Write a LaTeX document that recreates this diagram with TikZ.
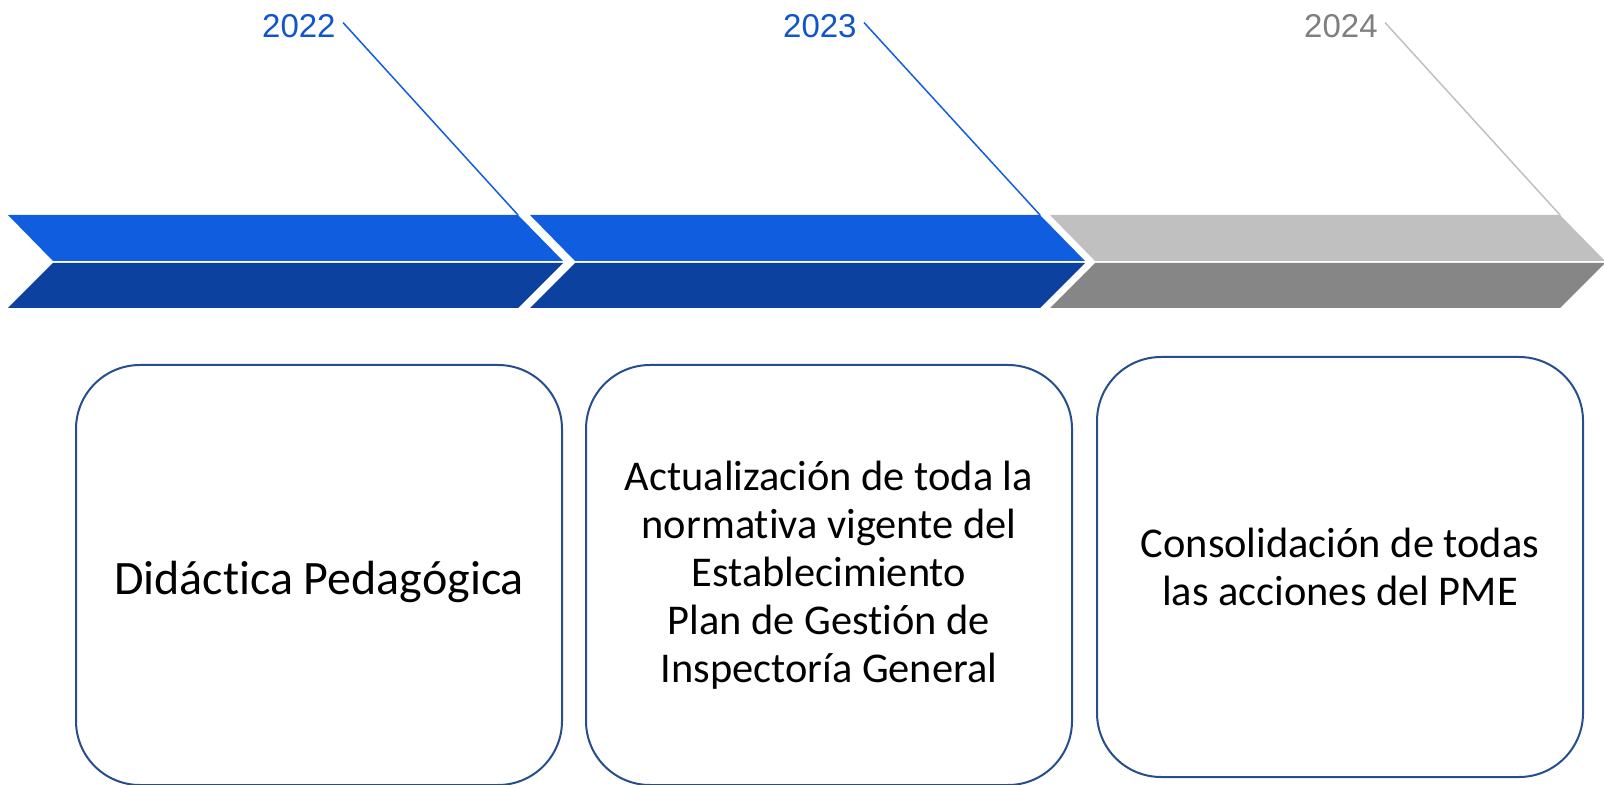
\documentclass[tikz,border=0pt]{standalone}
\usepackage{fontspec}
\setmainfont{Carlito}[Ligatures=NoCommon]
\newfontfamily\yearfont{Liberation Sans}
\usetikzlibrary{positioning}

\definecolor{bandtop}{RGB}{16,94,223}
\definecolor{bandbot}{RGB}{12,65,160}
\definecolor{greytop}{RGB}{192,192,192}
\definecolor{greybot}{RGB}{134,134,134}
\definecolor{yearblue}{RGB}{17,85,204}
\definecolor{yeargrey}{RGB}{127,127,127}
\definecolor{cardedge}{RGB}{38,78,140}

\tikzset{
  yearlabel/.style={font=\yearfont\fontsize{16.5}{19}\selectfont, inner sep=0pt, anchor=base east},
  leader/.style={line width=0.75pt},
  card/.style={draw=cardedge, line width=1pt, rounded corners=32pt,
    minimum width=243pt, minimum height=210pt, align=center,
    font=\fontsize{21.2}{24}\selectfont}
}

\begin{document}
\begin{tikzpicture}[x=0.5pt, y=-0.5pt]
\useasboundingbox (0,0) rectangle (1604,785);

% chevrons of the time line
\foreach \L/\up/\down in {8/bandtop/bandbot, 530/bandtop/bandbot, 1050/greytop/greybot}{
  \fill[\up] (\L,215) -- ++(510,0) -- ++(45,46) -- ++(-510,0) -- cycle;
  \fill[\down] (\L+45,263) -- ++(510,0) -- ++(-45,45) -- ++(-510,0) -- cycle;
}
\coordinate (end22) at (518,215);
\coordinate (end23) at (1040,215);
\coordinate (end24) at (1560,215);

% years
\node[yearlabel, text=yearblue] (y22) at (336,38) {2022};
\node[yearlabel, text=yearblue] (y23) at (857,38) {2023};
\node[yearlabel, text=yeargrey] (y24) at (1378,38) {2024};
\draw[leader, bandtop] ([shift={(3.5pt,-4pt)}]y22.north east) -- (end22);
\draw[leader, bandtop] ([shift={(3.5pt,-4pt)}]y23.north east) -- (end23);
\draw[leader, greytop] ([shift={(3.5pt,-4pt)}]y24.north east) -- (end24);

% cards
\node[card] (c22) at (319,575) {};
\node[font=\fontsize{24}{28}\selectfont] (t22) at (319,582) {Didáctica Pedagógica};
\node[card] (c23) at (829,575) {Actualización de toda la\\normativa vigente del\\Establecimiento\\Plan de Gestión de\\Inspectoría General};
\node[card] (c24) at (1340,567) {Consolidación de todas\\las acciones del PME};
\end{tikzpicture}
\end{document}
